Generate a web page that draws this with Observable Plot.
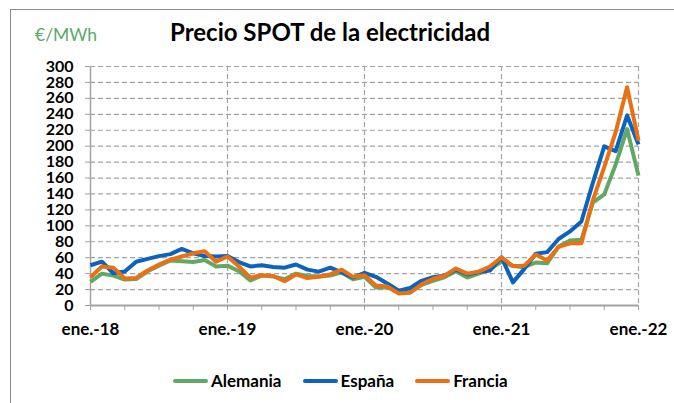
<!DOCTYPE html>
<html>
<head>
<meta charset="utf-8">
<script src="https://cdn.jsdelivr.net/npm/d3@7"></script>
<script src="https://cdn.jsdelivr.net/npm/@observablehq/plot@0.6"></script>
<style>
  html, body { margin: 0; padding: 0; background: #fff; }
  #wrap { position: relative; width: 674px; height: 403px; overflow: hidden; font-family: Lato, "DejaVu Sans", sans-serif; }
  #frame { position: absolute; left: 10px; top: 9px; width: 700px; height: 420px; border-left: 1px solid #8c8c8c; border-top: 1px solid #8c8c8c; }
  #unit { position: absolute; left: 35px; top: 24px; font-size: 17.5px; color: #5aaa6a; line-height: 22px; }
  #title { position: absolute; left: 170px; top: 19px; font-size: 24px; font-weight: 700; color: #000; line-height: 26px; white-space: nowrap; }
  #legend { position: absolute; left: 173px; top: 371px; display: flex; align-items: center; font-size: 17px; font-weight: 700; color: #000; line-height: 20px; }
  .item { display: flex; align-items: center; margin-right: 21px; }
  .sw { display: inline-block; width: 35px; height: 4px; border-radius: 2px; margin-right: 3px; }
  #chart { position: absolute; left: 0; top: 0; }
</style>
</head>
<body>
<div id="wrap">
  <div id="frame"></div>
  <div id="chart"></div>
  <div id="unit">€/MWh</div>
  <div id="title">Precio SPOT de la electricidad</div>
  <div id="legend"></div>
</div>
<script>
// Monthly points, ene.-18 .. ene.-22 (49 months)
const xTickLabels = ["ene.-18", "ene.-19", "ene.-20", "ene.-21", "ene.-22"];
const yTicks = [0, 20, 40, 60, 80, 100, 120, 140, 160, 180, 200, 220, 240, 260, 280, 300];
const seriesNames = ["Alemania", "España", "Francia"];
const seriesColors = ["#62a865", "#0b63bf", "#ea7013"];

const alemania = [
  29.6, 40, 37.5, 32.5, 33.3, 43, 50, 56.5, 55.5, 54.5, 57, 49,
  50, 43, 31.5, 37.5, 36.5, 33, 40, 37, 36.5, 37.5, 41.5, 33,
  36, 22.5, 23, 16.5, 17, 26, 31, 35.5, 43, 35, 40, 46,
  55, 49.5, 48, 54, 53, 74, 81.5, 82.5, 129, 139.5, 177, 221.5,
  163
];
const espana = [
  50.5, 55, 40.5, 42.7, 55, 58.5, 62, 64.5, 71, 65.5, 62, 61.5,
  62, 54.5, 49, 50.4, 48.4, 47.5, 51.5, 45, 42.5, 47.5, 41.5, 35,
  41, 36, 27.7, 18.5, 22, 31, 35.5, 37.5, 45, 39, 42, 44,
  60.5, 29, 46, 65, 67, 83.5, 93, 105.5, 154, 199.7, 193.8, 238.5,
  202
];
const francia = [
  35.5, 49, 47.5, 34, 34.5, 44, 51.5, 57.5, 61.5, 65.5, 68, 55,
  61.5, 49, 35, 38, 37, 30.5, 39, 34.5, 36, 39, 45, 36,
  38, 25, 24, 15, 16, 26.5, 33.5, 37, 46.5, 40, 42.5, 49,
  60.5, 49.5, 50, 64, 56.5, 73.5, 78, 78, 132, 173.6, 217.5, 274,
  207
];
const seriesValues = [alemania, espana, francia];

const data = seriesNames.flatMap((name, s) =>
  seriesValues[s].map((v, i) => ({ serie: name, month: i, value: v }))
);

const gridColor = "#a3a3a3";

const chart = Plot.plot({
  width: 674,
  height: 403,
  marginLeft: 90,
  marginRight: 36,
  marginTop: 66,
  marginBottom: 98,
  style: { fontFamily: "Lato, 'DejaVu Sans', sans-serif", background: "transparent", overflow: "visible" },
  x: { domain: [0, 48], axis: null },
  y: { domain: [0, 300], axis: null },
  color: { domain: seriesNames, range: seriesColors },
  marks: [
    Plot.gridY(yTicks.filter(d => d > 0), { stroke: gridColor, strokeOpacity: 1, strokeWidth: 1.2, strokeDasharray: "5,3" }),
    Plot.gridX([12, 24, 36, 48], { stroke: gridColor, strokeOpacity: 1, strokeWidth: 1.2, strokeDasharray: "5,3" }),
    Plot.ruleX([0], { stroke: gridColor, strokeWidth: 1.5 }),
    Plot.ruleY([0], { stroke: gridColor, strokeWidth: 2 }),
    Plot.axisY({ ticks: yTicks, label: null, tickSize: 5, tickPadding: 12, stroke: gridColor, fill: "#000", fontSize: 16, fontWeight: 700, tickFormat: d => String(d) }),
    Plot.axisX({ ticks: d3.range(0, 49, 3), label: null, tickSize: 5, stroke: gridColor, tickFormat: () => "" }),
    Plot.axisX({ ticks: [0, 12, 24, 36, 48], label: null, tickSize: 0, tickPadding: 17, fill: "#000", fontSize: 17, fontWeight: 700, tickFormat: d => xTickLabels[d / 12] }),
    Plot.line(data, { x: "month", y: "value", z: "serie", stroke: "serie", strokeWidth: 4, strokeLinejoin: "round", strokeLinecap: "butt" })
  ]
});
document.getElementById("chart").appendChild(chart);

const legend = document.getElementById("legend");
seriesNames.forEach((name, i) => {
  const item = document.createElement("div");
  item.className = "item";
  const sw = document.createElement("span");
  sw.className = "sw";
  sw.style.background = seriesColors[i];
  const label = document.createElement("span");
  label.textContent = name;
  item.appendChild(sw);
  item.appendChild(label);
  legend.appendChild(item);
});
</script>
</body>
</html>
